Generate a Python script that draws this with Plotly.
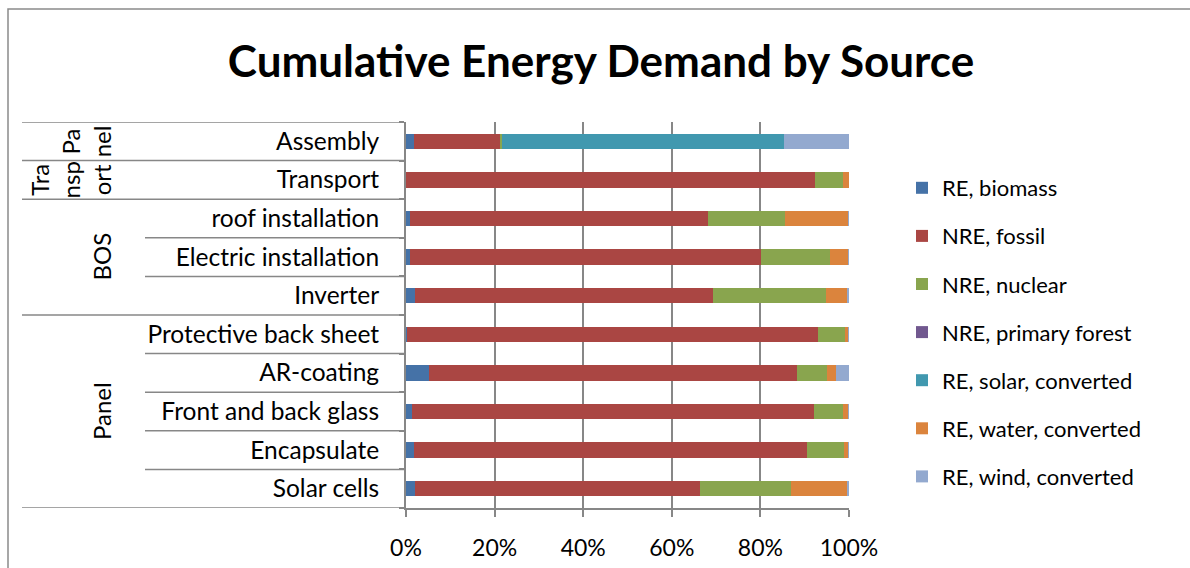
import plotly.graph_objects as go

# Life-cycle stages, bottom row first
stages = [
    "Solar cells", "Encapsulate", "Front and back glass", "AR-coating",
    "Protective back sheet", "Inverter", "Electric installation",
    "roof installation", "Transport", "Assembly",
]

# Share of cumulative energy demand per source (%)
re_biomass = [2.0, 1.7, 1.3, 5.3, 0.3, 2.1, 0.8, 0.8, 0.1, 1.7]
nre_fossil = [64.4, 88.8, 90.8, 83.0, 92.7, 67.2, 79.3, 67.4, 92.2, 19.7]
nre_nuclear = [20.5, 8.4, 6.6, 6.8, 6.1, 25.5, 15.7, 17.4, 6.4, 0.3]
nre_primary_forest = [0, 0, 0, 0, 0, 0, 0, 0, 0, 0]
re_solar = [0, 0, 0, 0, 0, 0, 0, 0, 0, 63.6]
re_water = [12.6, 0.9, 1.1, 2.0, 0.8, 4.7, 4.0, 14.2, 1.3, 0]
re_wind = [0.5, 0.2, 0.2, 2.9, 0.1, 0.5, 0.2, 0.2, 0, 14.7]

series_names = [
    "RE, biomass", "NRE, fossil", "NRE, nuclear", "NRE, primary forest",
    "RE, solar, converted", "RE, water, converted", "RE, wind, converted",
]
series_values = [re_biomass, nre_fossil, nre_nuclear, nre_primary_forest,
                 re_solar, re_water, re_wind]
series_colors = ["#4572A7", "#AA4643", "#89A54E", "#71588F",
                 "#4198AF", "#DB843D", "#93A9CF"]

x_ticks = [0, 20, 40, 60, 80, 100]
x_tick_labels = ["0%", "20%", "40%", "60%", "80%", "100%"]

# Stage groups: (label, first row index, last row index)
groups = [
    ("Panel", 0, 4),
    ("BOS", 5, 7),
    ("Tra<br>nsp<br>ort", 8, 8),
    ("Pa<br>nel", 9, 9),
]

FONT = "Lato"
GRID = "#878787"
W, H = 1190, 568
ML, MR, MT, MB = 406, 341, 122, 60
PW = W - ML - MR
PH = H - MT - MB


def px_to_xpaper(px):
    return (px - ML) / PW


def px_to_ypaper(py):
    return (H - MB - py) / PH


fig = go.Figure()
for name, vals, col in zip(series_names, series_values, series_colors):
    fig.add_trace(go.Bar(
        y=stages, x=vals, name=name, orientation="h",
        marker=dict(color=col, line=dict(width=0)),
        legendgroup=name, width=0.4,
    ))

shapes = []
# Row separators in the category label column
long_x0 = px_to_xpaper(22)
short_x0 = px_to_xpaper(145)
group_edges = {-0.5}
for _, lo, hi in groups:
    group_edges.add(lo - 0.5)
    group_edges.add(hi + 0.5)
for i in range(len(stages) + 1):
    yb = i - 0.5
    x0 = long_x0 if yb in group_edges else short_x0
    shapes.append(dict(type="line", xref="paper", yref="y",
                       x0=x0, x1=0, y0=yb, y1=yb,
                       line=dict(color=GRID, width=1.5)))

# Outer chart border (left and top edges visible; the rest runs off the canvas)
shapes.append(dict(type="rect", xref="paper", yref="paper",
                   x0=px_to_xpaper(8), x1=px_to_xpaper(W + 120),
                   y0=px_to_ypaper(H + 120), y1=px_to_ypaper(9),
                   line=dict(color="#8a8a8a", width=1.5),
                   fillcolor="rgba(0,0,0,0)", layer="below"))

annotations = []
for label, lo, hi in groups:
    annotations.append(dict(
        text=label, xref="paper", yref="y",
        x=px_to_xpaper(118), y=(lo + hi) / 2,
        xanchor="right", yanchor="middle", textangle=-90,
        showarrow=False, font=dict(family=FONT, size=24, color="black"),
        align="center",
    ))

fig.update_layout(
    width=W, height=H, autosize=False,
    margin=dict(l=ML, r=MR, t=MT, b=MB, pad=0, autoexpand=False),
    paper_bgcolor="white", plot_bgcolor="white",
    barmode="stack",
    title=dict(text="<b>Cumulative Energy Demand by Source</b>",
               x=601 / W, xanchor="center", xref="container",
               y=(H - 62) / H, yanchor="middle",
               font=dict(family=FONT, size=44, color="black")),
    xaxis=dict(range=[0, 100], tickvals=x_ticks, ticktext=x_tick_labels,
               showgrid=True, gridcolor=GRID, gridwidth=2,
               ticks="outside", ticklen=7, tickcolor=GRID, tickwidth=2,
               showline=True, linecolor=GRID, linewidth=1.5,
               zeroline=False, fixedrange=True, automargin=False,
               tickfont=dict(family=FONT, size=23, color="black"),
               ticklabelstandoff=12),
    yaxis=dict(type="category", categoryorder="array", categoryarray=stages,
               range=[-0.5, len(stages) - 0.5],
               showgrid=False, showline=True, linecolor=GRID, linewidth=2,
               ticks="outside", ticklen=5, tickcolor=GRID, tickwidth=1.5,
               tickson="boundaries", fixedrange=True, automargin=False,
               tickfont=dict(family=FONT, size=24.5, color="black"),
               ticklabelstandoff=20),
    legend=dict(x=px_to_xpaper(902), y=px_to_ypaper(167),
                xanchor="left", yanchor="top",
                traceorder="grouped", tracegroupgap=16.5,
                font=dict(family=FONT, size=22, color="black"),
                bgcolor="rgba(0,0,0,0)"),
    shapes=shapes,
    annotations=annotations,
    bargap=0.6,
)

fig.write_html("out.html", config={"displayModeBar": False})
